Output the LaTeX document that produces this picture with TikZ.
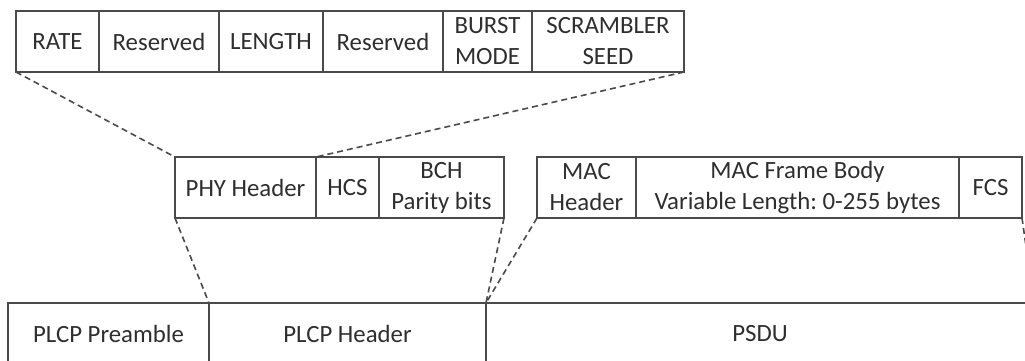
\documentclass[tikz,border=0pt]{standalone}
\usepackage{fontspec}
\setmainfont{Carlito}
\frenchspacing
\definecolor{linegray}{HTML}{4A4A4A}
\definecolor{textgray}{HTML}{2E2E2E}
% one unit = one pixel of a 1025 x 360 canvas, y pointing down
\newcommand\fieldbox[6]{%
  \node[cell, minimum width={(#4-#2)*0.5pt}, minimum height={(#5-#3)*0.5pt}]
    (#1) at ({(#2+#4)/2},{(#3+#5)/2}) {#6};}
\tikzset{
  cell/.style={draw=linegray, line width=0.8pt, inner sep=0pt, outer sep=0pt,
    text=textgray, align=center,
    font=\fontsize{12.4}{15.5}\selectfont},
  conn/.style={draw=linegray, line width=0.8pt, dash pattern=on 3pt off 2pt}
}
\begin{document}
\begin{tikzpicture}[x=0.5pt, y=-0.5pt]
\useasboundingbox (0,0) rectangle (1025,360);
\clip (0,0) rectangle (1025,360);

% PLCP header fields
\fieldbox{rate}{16}{11}{99}{72}{RATE}
\fieldbox{resa}{99}{11}{219}{72}{Reserved}
\fieldbox{length}{219}{11}{323}{72}{LENGTH}
\fieldbox{resb}{323}{11}{443}{72}{Reserved}
\fieldbox{burst}{443}{11}{532}{72}{BURST\\MODE}
\fieldbox{seed}{532}{11}{684}{72}{SCRAMBLER\\SEED}

% PLCP header structure
\fieldbox{phy}{175}{157}{316}{218}{PHY Header}
\fieldbox{hcs}{316}{157}{379}{218}{HCS}
\fieldbox{bch}{379}{157}{504}{218}{BCH\\Parity bits}

% MAC frame
\fieldbox{mach}{537}{157}{636}{218}{MAC\\Header}
\fieldbox{body}{636}{157}{959}{218}{MAC Frame Body\\Variable Length: 0-255 bytes}
\fieldbox{fcs}{959}{157}{1022}{218}{FCS}

% PLCP frame (runs past the lower and right edges)
\fieldbox{pre}{8}{303}{209}{365}{PLCP Preamble}
\fieldbox{plcph}{209}{303}{486}{365}{PLCP Header}
\fieldbox{psdu}{486}{303}{1034}{365}{PSDU}

% expansion lines
\draw[conn] (rate.south west) -- (phy.north west);
\draw[conn] (seed.south east) -- (phy.north east);
\draw[conn] (phy.south west) -- (plcph.north west);
\draw[conn] (bch.south east) -- (plcph.north east);
\draw[conn] (mach.south west) -- (psdu.north west);
\draw[conn] (fcs.south east) -- (psdu.north east);
\end{tikzpicture}
\end{document}
